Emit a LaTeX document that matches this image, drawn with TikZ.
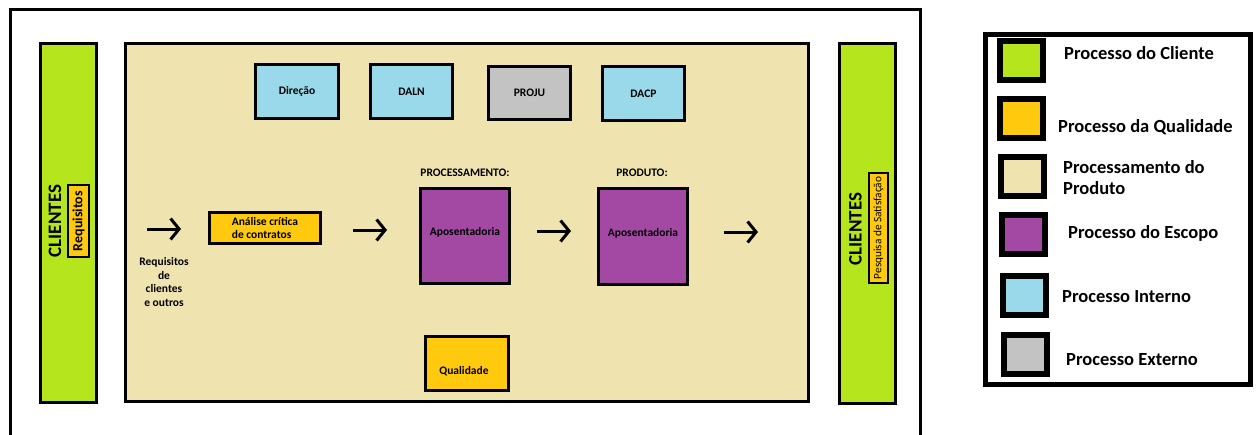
\documentclass[tikz,border=0pt]{standalone}
\usepackage{fontspec}
\setmainfont{Carlito}
\usetikzlibrary{arrows.meta}

\definecolor{cliente}{HTML}{B5E61D}
\definecolor{qualid}{HTML}{FFC90E}
\definecolor{produto}{HTML}{EFE4B0}
\definecolor{escopo}{HTML}{A349A4}
\definecolor{interno}{HTML}{99D9EA}
\definecolor{externo}{HTML}{C3C3C3}

\tikzset{
  smalltxt/.style={font=\fontsize{11.5}{13.5}\selectfont\bfseries},
  legtxt/.style={font=\fontsize{18.5}{21}\selectfont\bfseries, anchor=west, align=left, inner sep=0pt},
  panel/.style={draw=black, line width=3pt, inner sep=0pt},
  procbox/.style={draw=black, line width=3pt, inner sep=0pt, smalltxt},
  tagbox/.style={draw=black, line width=2pt, fill=qualid, inner sep=0pt, rotate=90},
  swatch/.style={draw=black, line width=6pt, inner sep=0pt, minimum width=43pt, minimum height=39pt},
  flow/.style={line width=3pt, -{Straight Barb[length=8.5pt, width=21pt, line width=3pt]}},
}

\begin{document}
\begin{tikzpicture}[x=1pt, y=-1pt]
\useasboundingbox (0,0) rectangle (1258,434);

% outer frame (runs past the lower edge)
\draw[line width=3pt] (10.5,445) -- (10.5,9.5) -- (920.5,9.5) -- (920.5,445);

% client columns and product processing area
\node[panel, fill=cliente, minimum width=56pt, minimum height=359pt] (cliL) at (68.5,223) {};
\node[panel, fill=produto, minimum width=683pt, minimum height=358pt] (area) at (467,222.5) {};
\node[panel, fill=cliente, minimum width=56pt, minimum height=360pt] (cliR) at (867.5,223.5) {};

\node[rotate=90, font=\fontsize{19}{21}\selectfont\bfseries, inner sep=0pt] (cliLtxt) at (55,221) {CLIENTES};
\node[tagbox, minimum width=72pt, minimum height=21pt, font=\fontsize{14}{16}\selectfont\bfseries] (req) at (78.5,221) {Requisitos};
\node[rotate=90, font=\fontsize{19}{21}\selectfont\bfseries, inner sep=0pt] (cliRtxt) at (855.5,229) {CLIENTES};
\node[tagbox, minimum width=110pt, minimum height=19pt, font=\fontsize{11.3}{13}\selectfont] (pesq) at (878.5,228) {Pesquisa de Satisfação};

% internal and external units
\node[procbox, fill=interno, minimum width=83pt, minimum height=54pt] (dir) at (297,91.5) {Direção};
\node[procbox, fill=interno, minimum width=82pt, minimum height=54pt] (daln) at (411.5,91.5) {DALN};
\node[procbox, fill=externo, minimum width=82pt, minimum height=53pt] (proju) at (529.5,93) {PROJU};
\node[procbox, fill=interno, minimum width=82pt, minimum height=54pt] (dacp) at (643.5,93.5) {DACP};

% main flow
\node[smalltxt, align=center, inner sep=0pt] (reqtxt) at (164,282) {Requisitos\\de\\clientes\\e outros};
\node[procbox, fill=qualid, minimum width=111pt, minimum height=31pt, align=left] (analise) at (265,228) {Análise crítica\\de contratos};
\node[smalltxt, inner sep=0pt] (proclab) at (465,173) {PROCESSAMENTO:};
\node[procbox, fill=escopo, minimum width=89pt, minimum height=95pt] (proc) at (465,236) {};
\node[smalltxt, inner sep=0pt] (proctxt) at (465,232) {Aposentadoria};
\node[smalltxt, inner sep=0pt] (prodlab) at (642,173) {PRODUTO:};
\node[procbox, fill=escopo, minimum width=89pt, minimum height=96pt] (prod) at (643,236.5) {};
\node[smalltxt, inner sep=0pt] (prodtxt) at (643,233) {Aposentadoria};
\node[procbox, fill=qualid, minimum width=83pt, minimum height=54pt] (qual) at (467,363.5) {};
\node[smalltxt, inner sep=0pt] (qualtxt) at (464,371) {Qualidade};

\coordinate (a1s) at (147,229); \coordinate (a1e) at (181,229);
\coordinate (a2s) at (353,230); \coordinate (a2e) at (387,230);
\coordinate (a3s) at (537,231); \coordinate (a3e) at (571,231);
\coordinate (a4s) at (724,232); \coordinate (a4e) at (758,232);
\draw[flow] (a1s) -- (a1e);
\draw[flow] (a2s) -- (a2e);
\draw[flow] (a3s) -- (a3e);
\draw[flow] (a4s) -- (a4e);

% legend
\draw[line width=5pt] (985.5,34.5) rectangle (1250.5,384.5);
\node[swatch, fill=cliente] (k1) at (1021.5,60.5) {};
\node[swatch, fill=qualid]  (k2) at (1021.5,118.5) {};
\node[swatch, fill=produto] (k3) at (1022.5,176.5) {};
\node[swatch, fill=escopo]  (k4) at (1023.5,234.5) {};
\node[swatch, fill=interno] (k5) at (1024.5,295.5) {};
\node[swatch, fill=externo] (k6) at (1025,354.5) {};
\node[legtxt] (t1) at (1064,53) {Processo do Cliente};
\node[legtxt] (t2) at (1058,127) {Processo da Qualidade};
\node[legtxt] (t3) at (1063,177.5) {Processamento do\\Produto};
\node[legtxt] (t4) at (1068,233) {Processo do Escopo};
\node[legtxt] (t5) at (1062,297) {Processo Interno};
\node[legtxt] (t6) at (1066,360) {Processo Externo};
\end{tikzpicture}
\end{document}
